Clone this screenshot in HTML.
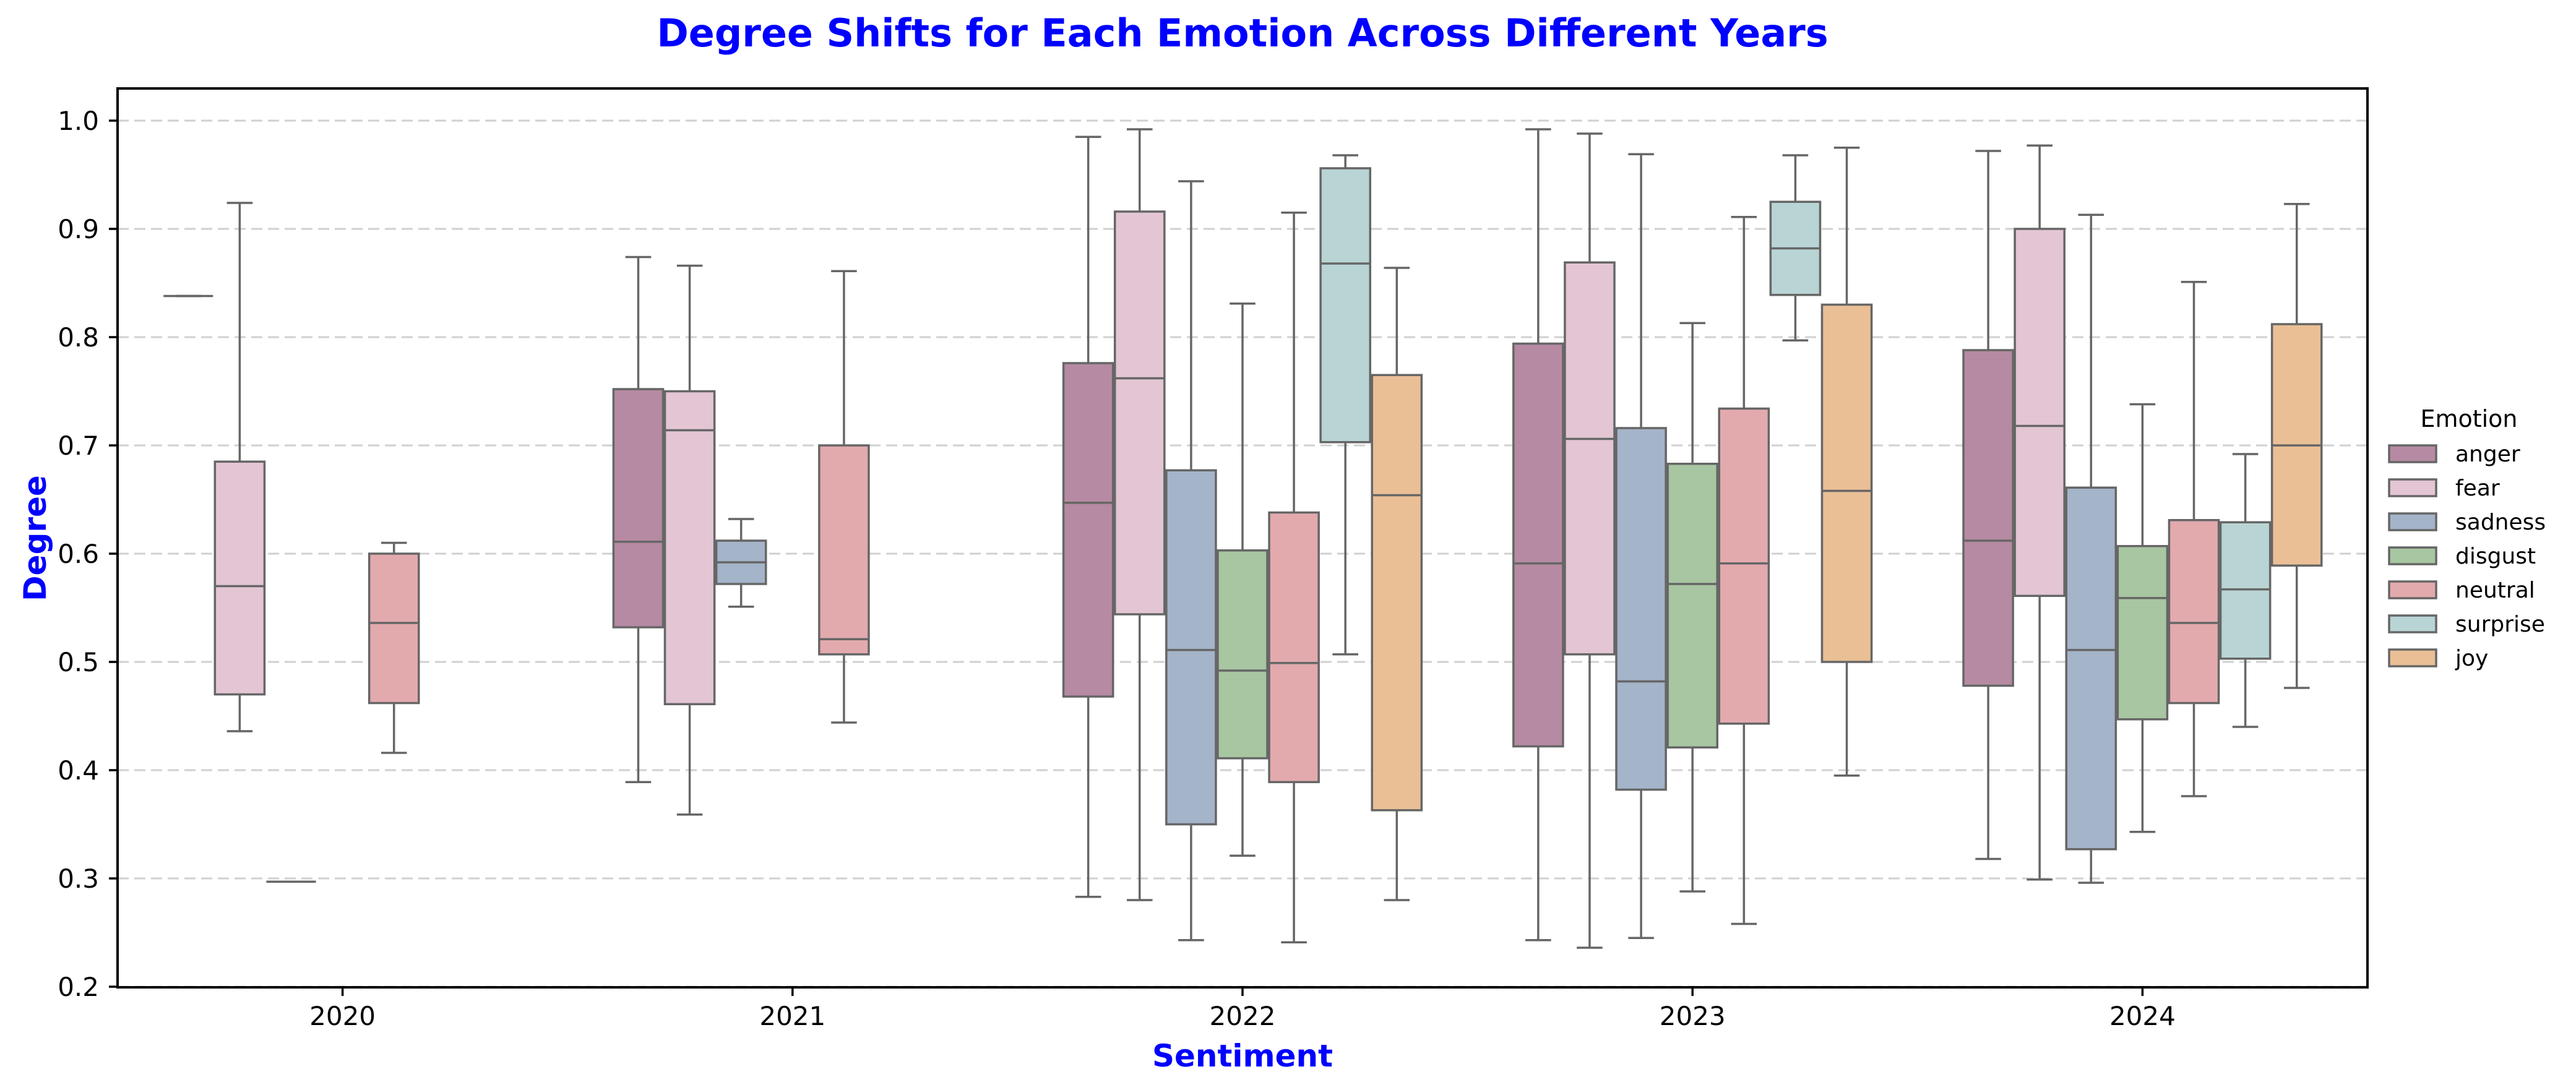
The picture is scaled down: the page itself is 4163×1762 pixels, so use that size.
<!DOCTYPE html>
<html><head><meta charset="utf-8"><style>
html,body{margin:0;padding:0;background:#fff;}
svg{display:block;font-family:"DejaVu Sans","Liberation Sans",sans-serif;}
</style></head><body>
<svg id="chart" width="4163" height="1762" viewBox="0 0 4163 1762" xmlns="http://www.w3.org/2000/svg">
<rect x="0" y="0" width="4163" height="1762" fill="#fff"/>
<text x="2008" y="75" text-anchor="middle" font-size="62" font-weight="bold" fill="#0000ff">Degree Shifts for Each Emotion Across Different Years</text>
<g id="grid"></g>
<g id="boxes"></g>
<rect x="190" y="143" width="3636" height="1453" fill="none" stroke="#000" stroke-width="4"/>
<g id="axes"></g>
<text x="2008" y="1724" text-anchor="middle" font-size="50" font-weight="bold" fill="#0000ff">Sentiment</text>
<text transform="translate(74,870) rotate(-90)" text-anchor="middle" font-size="50" font-weight="bold" fill="#0000ff">Degree</text>
<g id="legend"></g>
</svg>
<script>
const years = ["2020","2021","2022","2023","2024"];
const emotions = ["anger","fear","sadness","disgust","neutral","surprise","joy"];
const colors = ["#b68aa2","#e3c5d4","#a4b4c9","#a8c6a1","#e3aaae","#b9d4d4","#eabf96"];
const yTicks = [0.2,0.3,0.4,0.5,0.6,0.7,0.8,0.9,1.0];
const yTickLabels = ["0.2","0.3","0.4","0.5","0.6","0.7","0.8","0.9","1.0"];
// [whiskerLow, q1, median, q3, whiskerHigh] per year, per emotion (null = no data)
const stats2020 = [[0.838,0.838,0.838,0.838,0.838],[0.436,0.470,0.570,0.685,0.924],[0.297,0.297,0.297,0.297,0.297],null,[0.416,0.462,0.536,0.600,0.610],null,null];
const stats2021 = [[0.389,0.532,0.611,0.752,0.874],[0.359,0.461,0.714,0.750,0.866],[0.551,0.572,0.592,0.612,0.632],null,[0.444,0.507,0.521,0.700,0.861],null,null];
const stats2022 = [[0.283,0.468,0.647,0.776,0.985],[0.280,0.544,0.762,0.916,0.992],[0.243,0.350,0.511,0.677,0.944],[0.321,0.411,0.492,0.603,0.831],[0.241,0.389,0.499,0.638,0.915],[0.507,0.703,0.868,0.956,0.968],[0.280,0.363,0.654,0.765,0.864]];
const stats2023 = [[0.243,0.422,0.591,0.794,0.992],[0.236,0.507,0.706,0.869,0.988],[0.245,0.382,0.482,0.716,0.969],[0.288,0.421,0.572,0.683,0.813],[0.258,0.443,0.591,0.734,0.911],[0.797,0.839,0.882,0.925,0.968],[0.395,0.500,0.658,0.830,0.975]];
const stats2024 = [[0.318,0.478,0.612,0.788,0.972],[0.299,0.561,0.718,0.900,0.977],[0.296,0.327,0.511,0.661,0.913],[0.343,0.447,0.559,0.607,0.738],[0.376,0.462,0.536,0.631,0.851],[0.440,0.503,0.567,0.629,0.692],[0.476,0.589,0.700,0.812,0.923]];
const allStats = [stats2020,stats2021,stats2022,stats2023,stats2024];

const NS="http://www.w3.org/2000/svg";
const L=190,R=3826,T=143,B=1596;
const catStep=(R-L)/years.length;
function xCat(i){return L+catStep*(i+0.5);}
function y(v){return 195+(1.0-v)*1750;}
const boxW=catStep*0.8/emotions.length;
function mk(tag,attrs,parent){const e=document.createElementNS(NS,tag);for(const k in attrs)e.setAttribute(k,attrs[k]);parent.appendChild(e);return e;}

const grid=document.getElementById('grid'), axes=document.getElementById('axes'), boxes=document.getElementById('boxes'), legend=document.getElementById('legend');
yTicks.forEach((v,i)=>{
  const g=mk('line',{x1:L,x2:R,y1:y(v),y2:y(v),stroke:'#d0d0d0','stroke-width':3,'stroke-dasharray':'18 9'},grid);
  
  
  const t=mk('line',{x1:L-14,x2:L,y1:y(v),y2:y(v),stroke:'#000','stroke-width':3.5},axes);
  
  
  const tx=mk('text',{x:L-30,y:y(v)+15,'text-anchor':'end','font-size':42,fill:'#000'},axes);
  tx.textContent=yTickLabels[i];
  
  
});
years.forEach((yr,i)=>{
  const t=mk('line',{x1:xCat(i),x2:xCat(i),y1:B,y2:B+14,stroke:'#000','stroke-width':3.5},axes);
  
  
  const tx=mk('text',{x:xCat(i),y:B+61,'text-anchor':'middle','font-size':42,fill:'#000'},axes);
  tx.textContent=yr;
  
  
});
const lc='#666', lw=3.5;
allStats.forEach((ys,yi)=>{
  ys.forEach((s,ei)=>{
    if(!s) return;
    const cx=xCat(yi)+(ei-(emotions.length-1)/2)*boxW;
    const x0=cx-boxW/2+1.5, w=boxW-3;
    const g=mk('g',{},boxes);
    
    
    mk('line',{x1:cx,x2:cx,y1:y(s[0]),y2:y(s[1]),stroke:lc,'stroke-width':lw},g);
    mk('line',{x1:cx,x2:cx,y1:y(s[3]),y2:y(s[4]),stroke:lc,'stroke-width':lw},g);
    mk('line',{x1:cx-boxW/4,x2:cx+boxW/4,y1:y(s[0]),y2:y(s[0]),stroke:lc,'stroke-width':lw},g);
    mk('line',{x1:cx-boxW/4,x2:cx+boxW/4,y1:y(s[4]),y2:y(s[4]),stroke:lc,'stroke-width':lw},g);
    mk('rect',{x:x0,y:y(s[3]),width:w,height:Math.max(0,y(s[1])-y(s[3])),fill:colors[ei],stroke:lc,'stroke-width':lw},g);
    mk('line',{x1:x0,x2:x0+w,y1:y(s[2]),y2:y(s[2]),stroke:lc,'stroke-width':lw},g);
  });
});
const lt=mk('text',{x:3990,y:690,'text-anchor':'middle','font-size':38,fill:'#000'},legend);
lt.textContent='Emotion';


emotions.forEach((em,i)=>{
  const g=mk('g',{},legend);
  
  
  const yy=720+i*55;
  mk('rect',{x:3861,y:yy,width:76,height:27,fill:colors[i],stroke:'#666','stroke-width':3.5},g);
  const t=mk('text',{x:3968,y:yy+26,'font-size':36,fill:'#000'},g);
  t.textContent=em;
});
</script>
</body></html>
